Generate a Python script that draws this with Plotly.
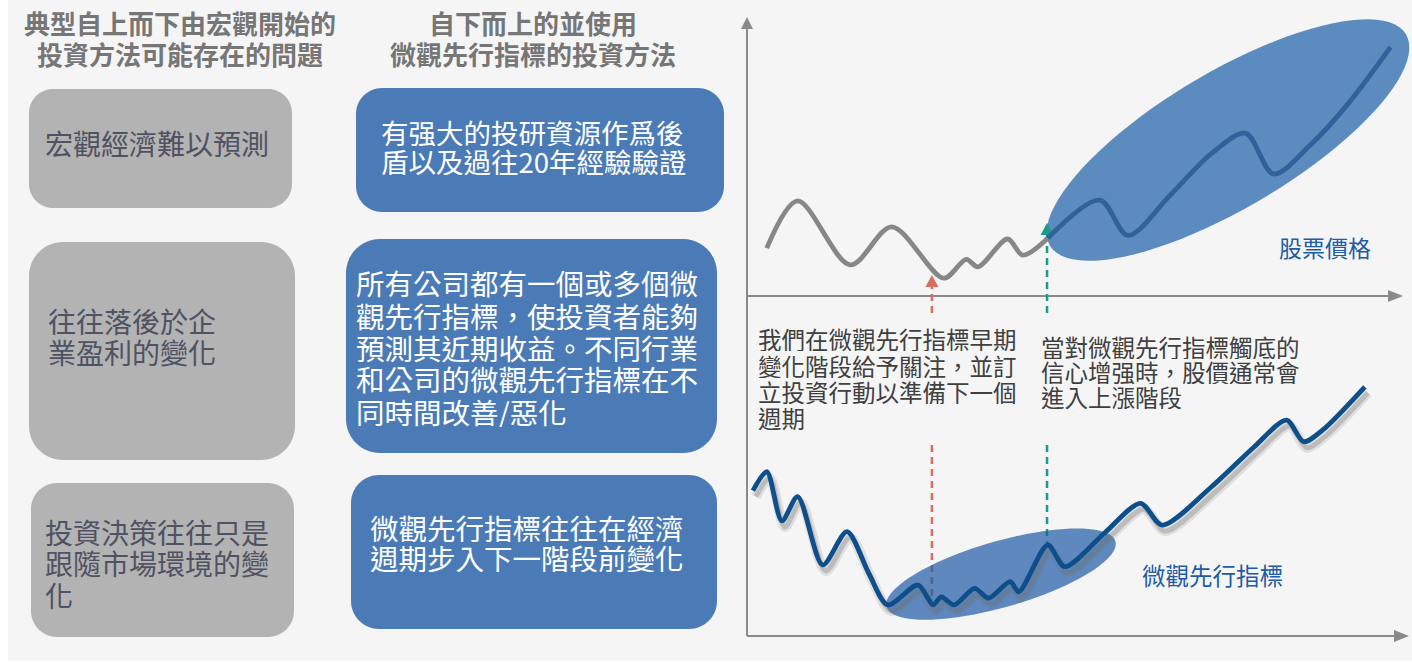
import math
import plotly.graph_objects as go

# ---------------- data ----------------
# Stock price (top chart): time index 0-100, value 0-100
price_gray_t = [3.0, 7.7, 15.7, 22.0, 29.9, 33.3, 35.1, 39.6, 41.9, 45.7]
price_gray_v = [17.2, 34.2, 11.2, 24.9, 6.4, 13.2, 10.5, 20.5, 14.7, 20.8]
price_blue_t = [45.7, 53.6, 57.9, 64.1, 70.6, 75.8, 80.0, 85.6, 91.4, 97.8]
price_blue_v = [20.8, 34.5, 21.8, 35.7, 51.3, 58.5, 43.9, 54.3, 69.3, 89.5]

# Micro leading indicator (bottom chart)
ind_t = [0.9, 3.0, 5.3, 7.7, 11.5, 15.2, 18.5, 21.4, 26.0, 28.3, 29.5, 31.5, 34.6,
         36.7, 40.0, 41.3, 45.7, 48.3, 54.3, 59.8, 63.1, 70.6, 77.1, 82.0, 84.6, 87.5, 93.9]
ind_v = [51.9, 58.7, 41.1, 49.8, 25.4, 37.3, 22.4, 11.1, 18.2, 11.1, 14.0, 11.1, 17.0,
         13.5, 19.4, 15.8, 32.5, 24.8, 36.7, 47.4, 39.6, 53.3, 67.6, 77.1, 69.4, 73.6, 89.0]

early_signal_t = 28.1     # red marker
confirm_signal_t = 45.6   # teal marker

header_left = ["典型自上而下由宏觀開始的", "投資方法可能存在的問題"]
header_right = ["自下而上的並使用", "微觀先行指標的投資方法"]
gray_texts = [["宏觀經濟難以預測"],
              ["往往落後於企", "業盈利的變化"],
              ["投資決策往往只是", "跟隨市場環境的變", "化"]]
blue_texts = [["有强大的投研資源作爲後", "盾以及過往20年經驗驗證"],
              ["所有公司都有一個或多個微", "觀先行指標，使投資者能夠", "預測其近期收益。不同行業",
               "和公司的微觀先行指標在不", "同時間改善/惡化"],
              ["微觀先行指標往往在經濟", "週期步入下一階段前變化"]]
note_left = ["我們在微觀先行指標早期", "變化階段給予關注，並訂", "立投資行動以準備下一個", "週期"]
note_right = ["當對微觀先行指標觸底的", "信心增强時，股價通常會", "進入上漲階段"]
label_price = "股票價格"
label_ind = "微觀先行指標"

# ---------------- layout geometry ----------------
W, H = 1412, 662
FONT = "Noto Sans CJK TC"


def PX(x):
    return x / W


def PY(y):
    return 1 - y / H


X0, X1 = 747, 1405
TOP_B, TOP_T = 296, 18
BOT_B, BOT_T = 636, 356


def top_px(t, v):
    return X0 + t * (X1 - X0) / 100, TOP_B - v * (TOP_B - TOP_T) / 100


def bot_px(t, v):
    return X0 + t * (X1 - X0) / 100, BOT_B - v * (BOT_B - BOT_T) / 100


def path_from(points, close=True):
    s = "M " + " L ".join(f"{PX(x):.5f},{PY(y):.5f}" for x, y in points)
    return s + (" Z" if close else "")


def rrect(x0, y0, x1, y1, r):
    k = 0.5523 * r
    P = lambda x, y: f"{PX(x):.5f},{PY(y):.5f}"
    return (f"M {P(x0 + r, y0)} L {P(x1 - r, y0)} "
            f"C {P(x1 - r + k, y0)} {P(x1, y0 + r - k)} {P(x1, y0 + r)} "
            f"L {P(x1, y1 - r)} "
            f"C {P(x1, y1 - r + k)} {P(x1 - r + k, y1)} {P(x1 - r, y1)} "
            f"L {P(x0 + r, y1)} "
            f"C {P(x0 + r - k, y1)} {P(x0, y1 - r + k)} {P(x0, y1 - r)} "
            f"L {P(x0, y0 + r)} "
            f"C {P(x0, y0 + r - k)} {P(x0 + r - k, y0)} {P(x0 + r, y0)} Z")


def ellipse(cx, cy, a, b, deg, n=90):
    th = math.radians(deg)
    pts = []
    for i in range(n):
        t = 2 * math.pi * i / n
        ux = a * math.cos(t) * math.cos(th) - b * math.sin(t) * math.sin(th)
        uy = a * math.cos(t) * math.sin(th) + b * math.sin(t) * math.cos(th)
        pts.append((cx + ux, cy - uy))
    return path_from(pts)


shapes = []
# background
shapes.append(dict(type="rect", xref="paper", yref="paper", x0=PX(8), x1=1, y0=PY(660), y1=1,
                   fillcolor="#f5f5f5", line=dict(width=0), layer="below"))

# boxes
gray_boxes = [(29, 89, 292, 208, 24), (29, 242, 295, 460, 34), (31, 483, 294, 637, 26)]
blue_boxes = [(356, 88, 724, 212, 26), (346, 239, 717, 453, 34), (351, 475, 717, 629, 28)]
for (x0, y0, x1, y1, r) in gray_boxes:
    shapes.append(dict(type="path", xref="paper", yref="paper", path=rrect(x0, y0, x1, y1, r),
                       fillcolor="#b3b3b3", line=dict(width=0), layer="below"))
for (x0, y0, x1, y1, r) in blue_boxes:
    shapes.append(dict(type="path", xref="paper", yref="paper", path=rrect(x0, y0, x1, y1, r),
                       fillcolor="#4b7bb7", line=dict(width=0), layer="below"))

AXC = "#8a8a8a"
# axes lines
shapes.append(dict(type="line", xref="paper", yref="paper", x0=PX(X0), x1=PX(X0), y0=PY(636), y1=PY(26),
                   line=dict(color=AXC, width=2), layer="below"))
shapes.append(dict(type="path", xref="paper", yref="paper",
                   path=path_from([(X0, 17), (X0 - 6, 29), (X0 + 6, 29)]),
                   fillcolor=AXC, line=dict(width=0), layer="below"))
shapes.append(dict(type="line", xref="paper", yref="paper", x0=PX(X0), x1=PX(1390), y0=PY(TOP_B), y1=PY(TOP_B),
                   line=dict(color=AXC, width=2), layer="below"))
shapes.append(dict(type="path", xref="paper", yref="paper",
                   path=path_from([(1403, TOP_B), (1388, TOP_B - 6), (1388, TOP_B + 6)]),
                   fillcolor=AXC, line=dict(width=0), layer="below"))
shapes.append(dict(type="line", xref="paper", yref="paper", x0=PX(X0), x1=PX(1396), y0=PY(BOT_B), y1=PY(BOT_B),
                   line=dict(color=AXC, width=2), layer="below"))
shapes.append(dict(type="path", xref="paper", yref="paper",
                   path=path_from([(1409, BOT_B), (1394, BOT_B - 6), (1394, BOT_B + 6)]),
                   fillcolor=AXC, line=dict(width=0), layer="below"))

RED = "#d9705f"
TEAL = "#1a9c8c"

# top ellipse (stock price rally)
ecx, ecy = top_px(73.1, 56.1)
shapes.append(dict(type="path", xref="paper", yref="paper", path=ellipse(ecx, ecy, 207, 68, 30.7),
                   fillcolor="#5b8bbf", line=dict(width=0), layer="below"))

# top dashed arrows
for t, col, tip in [(early_signal_t, RED, 275), (confirm_signal_t, TEAL, 223)]:
    xx, _ = top_px(t, 0)
    shapes.append(dict(type="line", xref="paper", yref="paper", x0=PX(xx), x1=PX(xx), y0=PY(313), y1=PY(tip + 10),
                       line=dict(color=col, width=2.5, dash="7px,5px"), layer="below"))
    shapes.append(dict(type="path", xref="paper", yref="paper",
                       path=path_from([(xx, tip), (xx - 6.5, tip + 12), (xx + 6.5, tip + 12)]),
                       fillcolor=col, line=dict(width=0), layer="below"))

# bottom dashed lines
for t, col, y_end in [(early_signal_t, RED, 600), (confirm_signal_t, TEAL, 543)]:
    xx, _ = bot_px(t, 0)
    shapes.append(dict(type="line", xref="paper", yref="paper", x0=PX(xx), x1=PX(xx), y0=PY(445), y1=PY(y_end),
                       line=dict(color=col, width=2.5, dash="7px,5px"), layer="below"))

# bottom ellipse (indicator bottoming)
bcx, bcy = bot_px(38.6, 22.1)
shapes.append(dict(type="path", xref="paper", yref="paper", path=ellipse(bcx, bcy, 119, 33, 16),
                   fillcolor="rgba(30,90,166,0.7)", line=dict(width=0), layer="below"))

# ---------------- traces ----------------
fig = go.Figure()
fig.add_trace(go.Scatter(x=price_gray_t, y=price_gray_v, mode="lines", xaxis="x", yaxis="y",
                         line=dict(color="#878787", width=4.8, shape="spline", smoothing=0.9),
                         hoverinfo="skip", showlegend=False))
fig.add_trace(go.Scatter(x=price_blue_t, y=price_blue_v, mode="lines", xaxis="x", yaxis="y",
                         line=dict(color="#30619a", width=4.8, shape="spline", smoothing=0.9),
                         hoverinfo="skip", showlegend=False))
# shadow of indicator line
fig.add_trace(go.Scatter(x=ind_t, y=ind_v, mode="lines", xaxis="x2", yaxis="y2",
                         line=dict(color="rgba(110,110,110,0.16)", width=10, shape="spline", smoothing=0.8),
                         hoverinfo="skip", showlegend=False))
fig.add_trace(go.Scatter(x=ind_t, y=ind_v, mode="lines", xaxis="x2", yaxis="y2",
                         line=dict(color="rgba(110,110,110,0.3)", width=5, shape="spline", smoothing=0.8),
                         hoverinfo="skip", showlegend=False))
fig.add_trace(go.Scatter(x=ind_t, y=ind_v, mode="lines", xaxis="x3", yaxis="y3",
                         line=dict(color="#0e4f8b", width=4.8, shape="spline", smoothing=0.8),
                         hoverinfo="skip", showlegend=False))

# ---------------- annotations ----------------
ann = []


def add_lines(lines, x, ys, size, color, anchor="left", bold=False, box_h=None):
    for line, y in zip(lines, ys):
        txt = f"<b>{line}</b>" if bold else line
        a = dict(text=txt, x=PX(x), y=PY(y), xref="paper", yref="paper", showarrow=False,
                 xanchor=anchor, yanchor="middle", borderpad=0,
                 font=dict(family=FONT, size=size, color=color))
        if box_h:
            a["height"] = box_h
            a["valign"] = "middle"
        ann.append(a)


add_lines(header_left, 180, [22, 53], 26, "#767676", anchor="center", bold=True, box_h=30)
add_lines(header_right, 533, [22, 53], 26, "#767676", anchor="center", bold=True, box_h=30)

GTXT = "#4f5262"
add_lines(gray_texts[0], 44, [143], 28, GTXT)
add_lines(gray_texts[1], 47, [321, 352], 28, GTXT, box_h=30)
add_lines(gray_texts[2], 44, [532, 563, 595], 28, GTXT, box_h=30)

add_lines(blue_texts[0], 380, [132, 161], 27.5, "white", box_h=28)
add_lines(blue_texts[1], 355, [283, 315, 347, 379, 411], 28.5, "white", box_h=31)
add_lines(blue_texts[2], 369, [527, 557], 28.5, "white", box_h=29)

add_lines(note_left, 757, [338, 365, 391, 417], 23.5, "#404040", box_h=25)
add_lines(note_right, 1040, [347, 372, 397], 23.5, "#404040", box_h=24)

add_lines([label_price], 1278, [247], 23, "#1d5ca7")
add_lines([label_ind], 1141, [575], 23.5, "#1d5ca7")

# ---------------- axes ----------------
xdom = [PX(X0), PX(X1)]
hidden = dict(visible=False, showgrid=False, zeroline=False, fixedrange=True)
layout = dict(
    width=W, height=H, margin=dict(l=0, r=0, t=0, b=0, pad=0),
    paper_bgcolor="white", plot_bgcolor="rgba(0,0,0,0)",
    showlegend=False, shapes=shapes, annotations=ann,
    xaxis=dict(domain=xdom, range=[0, 100], anchor="y", **hidden),
    yaxis=dict(domain=[PY(TOP_B), PY(TOP_T)], range=[0, 100], anchor="x", **hidden),
    xaxis2=dict(domain=[PX(X0 + 3), PX(X1 + 3)], range=[0, 100], anchor="y2", **hidden),
    yaxis2=dict(domain=[PY(BOT_B + 6), PY(BOT_T + 6)], range=[0, 100], anchor="x2", **hidden),
    xaxis3=dict(domain=xdom, range=[0, 100], anchor="y3", **hidden),
    yaxis3=dict(domain=[PY(BOT_B), PY(BOT_T)], range=[0, 100], anchor="x3", **hidden),
)
fig.update_layout(**layout)
fig.write_html("out.html")
